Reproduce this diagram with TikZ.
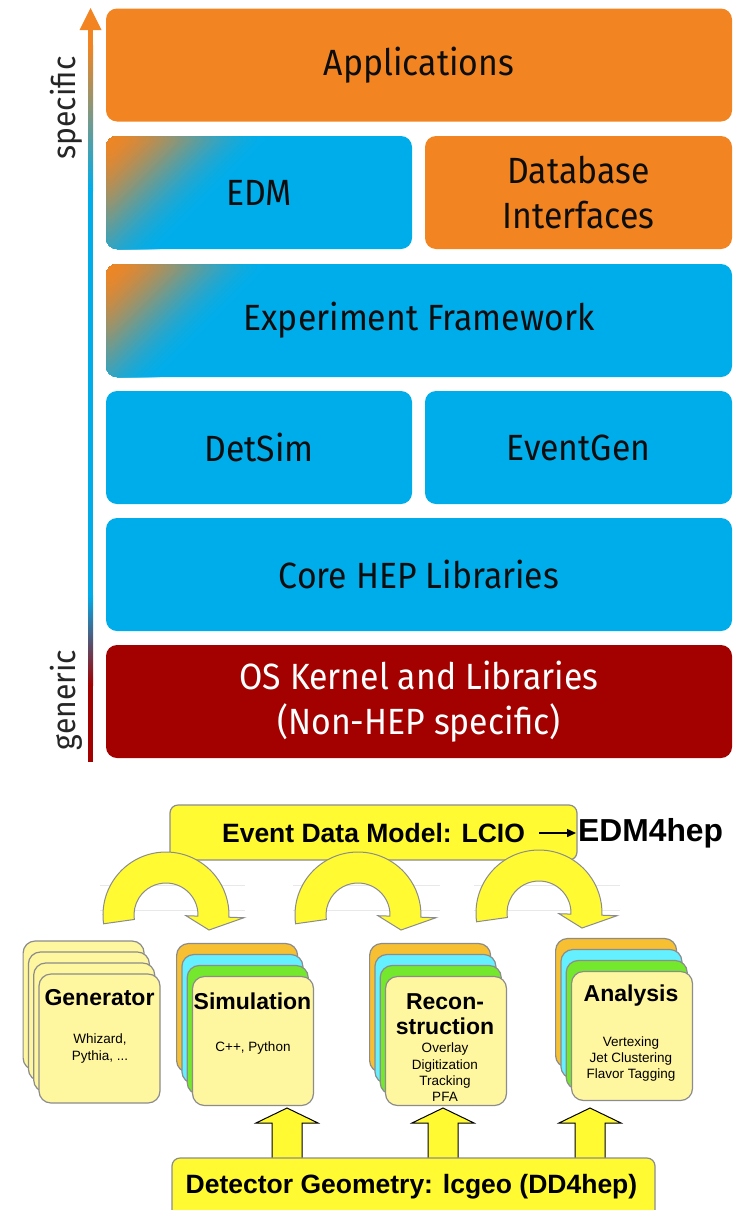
\documentclass[tikz,border=0pt]{standalone}
\usepackage{fontspec}
\setmainfont{Liberation Sans}
\newfontfamily\fira[FakeStretch=0.925]{Fira Sans}
\usetikzlibrary{arrows.meta,calc}

\definecolor{orng}{RGB}{242,133,34}
\definecolor{skyb}{RGB}{0,173,235}
\definecolor{oxred}{RGB}{163,0,0}
\definecolor{cardyel}{RGB}{255,246,160}
\definecolor{cardorg}{RGB}{246,192,50}
\definecolor{cardcyn}{RGB}{100,240,255}
\definecolor{cardgrn}{RGB}{115,232,45}
\definecolor{brightyel}{RGB}{255,250,50}
\definecolor{edgegray}{RGB}{140,140,140}

\tikzset{
  layer/.style={rounded corners=11pt, minimum height=113pt, inner sep=0pt,
    font=\fira\fontsize{36.5}{45}\selectfont, text=black!95, align=center},
  % orange glow fading diagonally (smoothstep profile) into blue from the top-left corner
  glow/.style={path picture={
    \foreach \k in {1,...,60}{
      \pgfmathsetmacro\legl{170*(1-\k/61)}
      \pgfmathsetmacro\mixp{100*(3*(\k/61)^2-2*(\k/61)^3)}
      \fill[orng!\mixp!skyb] (path picture bounding box.north west)
        -- ++(\legl,0) -- ++(-\legl,\legl) -- cycle;
    }}},
  axislabel/.style={rotate=90, font=\fira\fontsize{32.5}{34}\selectfont, text=black!85},
  card/.style={draw=edgegray, line width=1.2pt, rounded corners=12pt,
    minimum width=121pt, minimum height=129pt, inner sep=0pt},
  cardtitle/.style={font=\bfseries\fontsize{23}{25}\selectfont, align=center, inner sep=0pt},
  carddetail/.style={font=\fontsize{13.5}{16.3}\selectfont, align=center, inner sep=0pt},
  banner/.style={draw=edgegray, fill=brightyel, rounded corners=8pt, line width=1.2pt, inner sep=0pt},
  bannertext/.style={font=\bfseries\fontsize{26.5}{30}\selectfont, inner sep=0pt},
  loop arrow/.pic={
    \filldraw[fill=brightyel, draw=edgegray, line width=1pt]
      (172:63) arc[start angle=172, end angle=362, radius=63]
      -- (362:78) -- (43,15) -- (362:20) -- (362:32)
      arc[start angle=362, end angle=172, radius=32] -- cycle;},
  up arrow/.pic={
    \filldraw[fill=brightyel, draw=black, line width=1pt]
      (0,0) -- (31,15) -- (15,15) -- (15,56) -- (-15,56) -- (-15,15) -- (-31,15) -- cycle;}
}

\begin{document}
\begin{tikzpicture}[x=1pt, y=-1pt]
\fill[white] (0,0) rectangle (744,1210);
\clip (0,0) rectangle (744,1210);

% ---------- generic-to-specific axis ----------
\fill[orng] (88,29) rectangle (93,45);
\shade[top color=orng, bottom color=skyb] (88,45) rectangle (93,190);
\fill[skyb] (88,190) rectangle (93,595);
\shade[top color=skyb, bottom color=oxred] (88,595) rectangle (93,685);
\fill[oxred] (88,685) rectangle (93,762);
\fill[orng] (79.5,30) -- (90.5,8) -- (101.5,30) -- cycle;
\node[axislabel] (specific) at (66,108) {specific};
\node[axislabel] (generic) at (66,700) {generic};

% ---------- software layers ----------
\node[layer, fill=orng, minimum width=626pt] (apps) at (419,65) {Applications};
\node[layer, fill=skyb, glow, minimum width=306pt] (edm) at (259,192.5) {EDM};
\node[layer, fill=orng, minimum width=307pt] (dbi) at (578.5,192.5) {Database\\Interfaces};
\node[layer, fill=skyb, glow, minimum width=626pt] (expfw) at (419,320.5) {Experiment Framework};
\node[layer, fill=skyb, minimum width=306pt] (detsim) at (259,447.5) {DetSim};
\node[layer, fill=skyb, minimum width=307pt] (evgen) at (578.5,447.5) {EventGen};
\node[layer, fill=skyb, minimum width=626pt] (core) at (419,574.5) {Core HEP Libraries};
\node[layer, fill=oxred, text=white, minimum width=626pt] (os) at (419,701.5) {OS Kernel and Libraries\\(Non-HEP specific)};

% ---------- event data model ----------
\node[banner, minimum width=407pt, minimum height=55pt] (lcio) at (373.5,832.5) {};
\node[bannertext] (lciotext) at (373.5,833) {Event Data Model: LCIO};
\node[font=\bfseries\fontsize{31.8}{34}\selectfont, inner sep=0pt, anchor=west] (edm4hep) at (578,833) {EDM4hep};
\draw[line width=1.5pt, -{Triangle[length=9pt, width=8pt]}] ([xshift=14pt]lciotext.east) -- ([xshift=-2pt]edm4hep.west);

% faint ruling behind the loop arrows
\foreach \a/\b in {100/245, 293/440, 474/620}{
  \draw[black!9, line width=0.8pt] (\a,885) -- (\b,885);
  \draw[black!9, line width=0.8pt] (\a,910) -- (\b,910);
}
\pic at (166,915) {loop arrow};
\pic at (358,915) {loop arrow};
\pic at (539,913) {loop arrow};

% ---------- processing stages ----------
\node[card, fill=cardyel] (gen1) at (83.6,1005.5) {};
\node[card, fill=cardyel] (gen2) at (88.9,1016.5) {};
\node[card, fill=cardyel] (gen3) at (94.2,1027.5) {};
\node[card, fill=cardyel] (gen4) at (99.5,1038.5) {};
\node[cardtitle] (gentitle) at (99.5,998) {Generator};
\node[carddetail, font=\fontsize{13.5}{17}\selectfont] (gendet) at (100,1048.5) {Whizard,\\Pythia, ...};

\node[card, fill=cardorg] (sim1) at (237.1,1008) {};
\node[card, fill=cardcyn] (sim2) at (242.4,1019) {};
\node[card, fill=cardgrn] (sim3) at (247.7,1030) {};
\node[card, fill=cardyel] (sim4) at (253,1041) {};
\node[cardtitle] (simtitle) at (252.5,1001) {Simulation};
\node[carddetail] (simdet) at (253,1048) {C++, Python};

\node[card, fill=cardorg] (rec1) at (430.1,1008) {};
\node[card, fill=cardcyn] (rec2) at (435.4,1019) {};
\node[card, fill=cardgrn] (rec3) at (440.7,1030) {};
\node[card, fill=cardyel] (rec4) at (446,1041) {};
\node[cardtitle, font=\bfseries\fontsize{23}{24.5}\selectfont] (rectitle) at (445,1014) {Recon-\\struction};
\node[carddetail] (recdet) at (445,1072.5) {Overlay\\Digitization\\Tracking\\PFA};

\node[card, fill=cardorg] (ana1) at (616.1,1003) {};
\node[card, fill=cardcyn] (ana2) at (621.4,1014) {};
\node[card, fill=cardgrn] (ana3) at (626.7,1025) {};
\node[card, fill=cardyel] (ana4) at (632,1036) {};
\node[cardtitle] (anatitle) at (631,996) {Analysis};
\node[carddetail] (anadet) at (631,1059) {Vertexing\\Jet Clustering\\Flavor Tagging};

% ---------- detector geometry ----------
\pic at (287,1108) {up arrow};
\pic at (443,1108) {up arrow};
\pic at (590,1108) {up arrow};
\node[banner, minimum width=483pt, minimum height=80pt] (geo) at (413.5,1198) {};
\node[bannertext] (geotext) at (411.5,1187) {Detector Geometry: lcgeo (DD4hep)};
\end{tikzpicture}
\end{document}
